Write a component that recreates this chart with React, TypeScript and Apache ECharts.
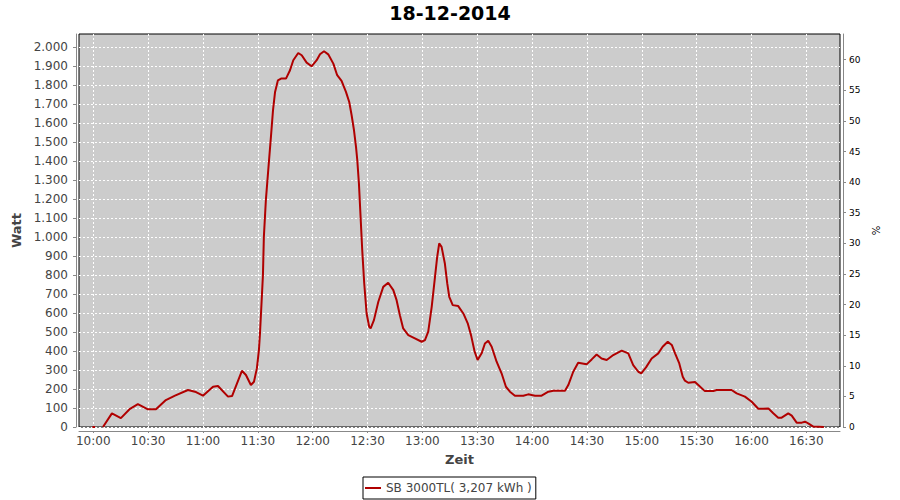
import React, { useEffect, useRef } from 'react';
import * as echarts from 'echarts';

const TITLE = '18-12-2014';
const SERIES_NAME = 'SB 3000TL( 3,207 kWh )';
const X_NAME = 'Zeit';
const Y_NAME = 'Watt';
const Y2_NAME = '%';

// minutes since midnight
const timeMinutes = [
  599.5, 601, 603, 605.3, 610.2, 615.1, 620.1, 624.4, 629.9, 634.3, 639.7, 644.7,
  651.8, 656.2, 660.0, 665.5, 668.2, 673.7, 675.9, 681.3, 683.5, 686.2, 687.9, 689.5,
  690.6, 691.2, 692.8, 693.3, 694.4, 695.7, 697.2, 698.3, 699.4, 701.0, 702.7, 705.4,
  707.6, 709.4, 712.1, 714.0, 716.7, 719.4, 722.2, 724.0, 726.2, 728.5, 731.3, 733.4,
  735.8, 738.2, 740.0, 741.3, 742.6, 743.7, 744.4, 745.3, 746.2, 747.1, 748.2, 749.5,
  750.9, 751.7, 753.5, 755.9, 758.6, 761.3, 764.1, 765.9, 767.7, 769.5, 772.3, 775.9,
  779.6, 781.4, 783.2, 785.1, 786.9, 788.1, 789.2, 790.5, 792.3, 793.6, 794.7, 796.6,
  799.6, 802.4, 804.8, 806.6, 808.5, 810.2, 812.4, 814.2, 816.0, 817.9, 820.6, 823.3,
  825.7, 827.9, 830.6, 835.2, 837.9, 841.6, 845.2, 848.9, 851.6, 858.0, 859.8, 862.5,
  865.2, 869.8, 872.6, 875.3, 878.0, 880.8, 884.4, 889.0, 892.6, 895.3, 898.1, 899.7,
  902.3, 905.4, 909.0, 911.4, 914.2, 916.4, 918.2, 920.5, 922.4, 923.6, 925.4, 929.1,
  930.9, 934.5, 939.1, 940.9, 949.1, 951.9, 956.4, 960.1, 963.7, 966.4, 969.2, 971.9,
  974.6, 976.5, 980.1, 982.0, 984.7, 987.5, 989.2, 991.0, 993.8, 999.6
];

const watt: (number | null)[] = [
  0, 0, null, 0, 72, 47, 96, 121, 93, 93, 142, 165,
  195, 184, 165, 212, 216, 160, 163, 296, 274, 221, 238, 310,
  405, 495, 800, 1000, 1195, 1353, 1532, 1668, 1763, 1826, 1835, 1835,
  1879, 1932, 1970, 1958, 1919, 1900, 1932, 1963, 1979, 1963, 1914, 1853,
  1823, 1765, 1712, 1642, 1563, 1475, 1405, 1282, 1107, 932, 756, 598,
  528, 519, 563, 660, 738, 760, 721, 668, 589, 519, 484, 467,
  449, 458, 502, 633, 791, 896, 967, 949, 861, 756, 686, 642,
  637, 598, 546, 484, 400, 353, 388, 440, 454, 423, 344, 283,
  212, 186, 165, 165, 172, 165, 165, 186, 191, 191, 221, 291,
  338, 330, 356, 382, 361, 353, 379, 402, 388, 326, 291, 283,
  314, 361, 388, 423, 449, 432, 388, 335, 265, 244, 233, 237,
  221, 189, 189, 195, 195, 177, 160, 133, 96, 96, 98, 72,
  49, 49, 72, 60, 23, 23, 28, 19, 2, 0
];

const xTickMinutes = [600, 630, 660, 690, 720, 750, 780, 810, 840, 870, 900, 930, 960, 990];
const wattTicks = [0, 100, 200, 300, 400, 500, 600, 700, 800, 900, 1000, 1100, 1200, 1300, 1400, 1500, 1600, 1700, 1800, 1900, 2000];
const percentTicks = [0, 5, 10, 15, 20, 25, 30, 35, 40, 45, 50, 55, 60];

const FONT = 'DejaVu Sans';

function fmtTime(v: number): string {
  const h = Math.floor(v / 60);
  const m = Math.round(v - h * 60);
  return String(h).padStart(2, '0') + ':' + String(m).padStart(2, '0');
}

function fmtWatt(v: number): string {
  const s = String(Math.round(v));
  return s.replace(/\B(?=(\d{3})+(?!\d))/g, '.');
}

export default function App() {
  const ref = useRef<HTMLDivElement>(null);

  useEffect(() => {
    document.body.style.margin = '0';
    if (!ref.current) return;
    const chart = echarts.init(ref.current, undefined, { renderer: 'svg' });
    const axisGray = '#888888';
    chart.setOption({
      animation: false,
      backgroundColor: '#ffffff',
      title: {
        text: TITLE,
        left: 'center',
        top: 3,
        padding: 0,
        textStyle: { fontFamily: FONT, fontSize: 19, fontWeight: 'bold', color: '#000' }
      },
      legend: {
        data: [SERIES_NAME],
        left: 363,
        top: 477,
        padding: [4, 4, 4, 2],
        borderColor: '#000',
        borderWidth: 1,
        itemWidth: 16,
        itemHeight: 2,
        icon: 'rect',
        textStyle: { fontFamily: FONT, fontSize: 12, color: '#444', lineHeight: 14 }
      },
      grid: {
        left: 79,
        right: 60,
        top: 34,
        bottom: 73,
        show: true,
        backgroundColor: '#cccccc',
        borderColor: '#000',
        borderWidth: 1
      },
      xAxis: {
        type: 'value',
        min: 592.2,
        max: 1008.4,
        offset: 4,
        name: X_NAME,
        nameLocation: 'middle',
        nameGap: 22,
        nameTextStyle: { fontFamily: FONT, fontSize: 13, fontWeight: 'bold', color: '#444' },
        axisLine: { show: true, onZero: false, lineStyle: { color: axisGray, width: 1 } },
        axisTick: { show: true, length: 2, customValues: xTickMinutes, lineStyle: { color: axisGray } },
        axisLabel: {
          customValues: xTickMinutes,
          formatter: (v: number) => fmtTime(v),
          margin: 4,
          color: '#444',
          fontFamily: FONT,
          fontSize: 12
        },
        splitLine: { show: true, lineStyle: { color: '#ffffff', type: [2, 2], width: 1 } }
      },
      yAxis: [
        {
          type: 'value',
          position: 'left',
          min: 0,
          max: 2070,
          offset: 3,
          name: Y_NAME,
          nameLocation: 'middle',
          nameGap: 49,
          nameTextStyle: { fontFamily: FONT, fontSize: 13, fontWeight: 'bold', color: '#444' },
          axisLine: { show: true, lineStyle: { color: axisGray, width: 1 } },
          axisTick: { show: true, length: 3, customValues: wattTicks, lineStyle: { color: axisGray } },
          axisLabel: {
            customValues: wattTicks,
            formatter: (v: number) => fmtWatt(v),
            margin: 8,
            color: '#444',
            fontFamily: FONT,
            fontSize: 12
          },
          splitLine: { show: true, lineStyle: { color: '#ffffff', type: [2, 2], width: 1 } }
        },
        {
          type: 'value',
          position: 'right',
          min: 0,
          max: 64.2,
          offset: 3,
          name: Y2_NAME,
          nameLocation: 'middle',
          nameGap: 25,
          nameTextStyle: { fontFamily: FONT, fontSize: 10, color: '#000' },
          axisLine: { show: true, lineStyle: { color: axisGray, width: 1 } },
          axisTick: { show: true, length: 3, customValues: percentTicks, lineStyle: { color: axisGray } },
          axisLabel: {
            customValues: percentTicks,
            margin: 6,
            color: '#000',
            fontFamily: FONT,
            fontSize: 9
          },
          splitLine: { show: false }
        }
      ],
      series: [
        {
          name: SERIES_NAME,
          type: 'line',
          xAxisIndex: 0,
          yAxisIndex: 0,
          data: timeMinutes.map((t, i) => [t, watt[i]]),
          showSymbol: false,
          symbol: 'none',
          connectNulls: false,
          lineStyle: { color: '#b00000', width: 2 },
          itemStyle: { color: '#b00000' }
        }
      ]
    });
    return () => chart.dispose();
  }, []);

  return (
    <div
      ref={ref}
      style={{ position: 'fixed', left: 0, top: 0, width: 900, height: 500 }}
    />
  );
}
